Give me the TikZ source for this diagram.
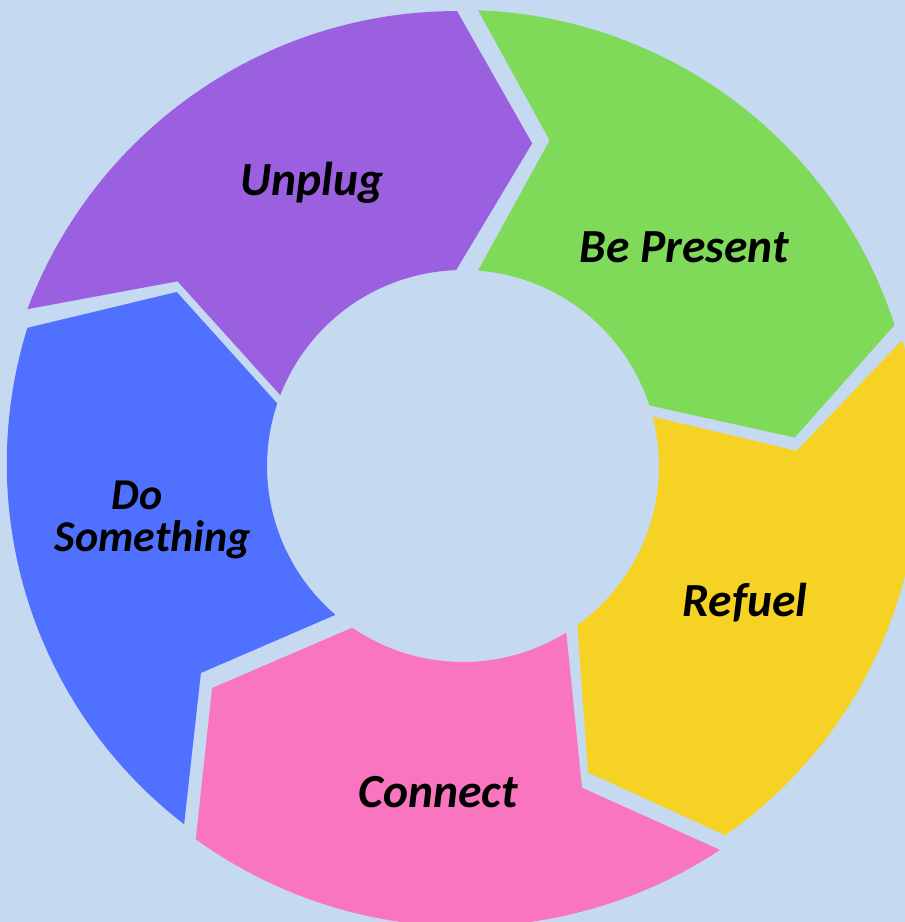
\documentclass[tikz,border=0pt]{standalone}
\usepackage{fontspec}
\setmainfont{Carlito}
\definecolor{bgc}{HTML}{C5D9F0}
\definecolor{cpur}{HTML}{9B60E0}
\definecolor{cgre}{HTML}{7FDA5A}
\definecolor{cyel}{HTML}{F5D224}
\definecolor{cpin}{HTML}{F975C0}
\definecolor{cblu}{HTML}{5070FF}
% radius going linearly from #2 (at angle #1) to #4 (at angle #3)
\newcommand{\linr}[4]{(#2)+((#4)-(#2))*(\x-(#1))/((#3)-(#1))}
\tikzset{lab/.style={font=\fontsize{47.5}{54}\selectfont\bfseries\itshape, text=black, inner sep=0pt},
  labs/.style={lab, font=\fontsize{44}{50}\selectfont\bfseries\itshape},
  pl/.style={samples=60}}
\begin{document}
\begin{tikzpicture}[x=1pt,y=1pt]
\fill[bgc] (-463,-456) rectangle (442,466);
\useasboundingbox (-463,-456) rectangle (442,466);
% Unplug
\fill[cpur] plot[pl,domain=160.2:90.75] (\x:{\linr{160.2}{463}{90.75}{455}}) -- (77.9:330)
  -- plot[pl,domain=92:158.8] (\x:196) -- (147.1:340) -- cycle;
% Be Present
\fill[cgre] plot[pl,domain=88.1:18.1] (\x:{\linr{88.1}{456}{18.1}{454}}) -- (4.9:333)
  -- plot[pl,domain=18:85.6] (\x:196) -- (75.1:337) -- cycle;
% Refuel
\fill[cyel] plot[pl,domain=16:-54.6] (\x:{\linr{16}{457}{-54.6}{453}}) -- (-67.8:331)
  -- plot[pl,domain=-54.3:14.6] (\x:196) -- (2.6:334) -- cycle;
% Connect
\fill[cpin] plot[pl,domain=-56.2:-125.6] (\x:{\linr{-56.2}{462}{-125.6}{459}}) -- (-138.5:335)
  -- plot[pl,domain=-124.4:-58.2] (\x:196) -- (-69.7:343) -- cycle;
% Do Something
\fill[cblu] plot[pl,domain=232.1:162.4] (\x:{\linr{232.1}{454}{162.4}{457}}) -- (148.7:335)
  -- plot[pl,domain=161.4:229.4] (\x:196) -- (218.3:334) -- cycle;
\node[lab] (unplug) at (-151,283) {Unplug};
\node[lab] (bepresent) at (221,219) {Be Present};
\node[lab] (refuel) at (282,-137) {Refuel};
\node[lab] (connect) at (-25,-326) {Connect};
\node[labs] (do) at (-326,-29) {Do};
\node[labs] (something) at (-310,-74) {Something};
\end{tikzpicture}
\end{document}
